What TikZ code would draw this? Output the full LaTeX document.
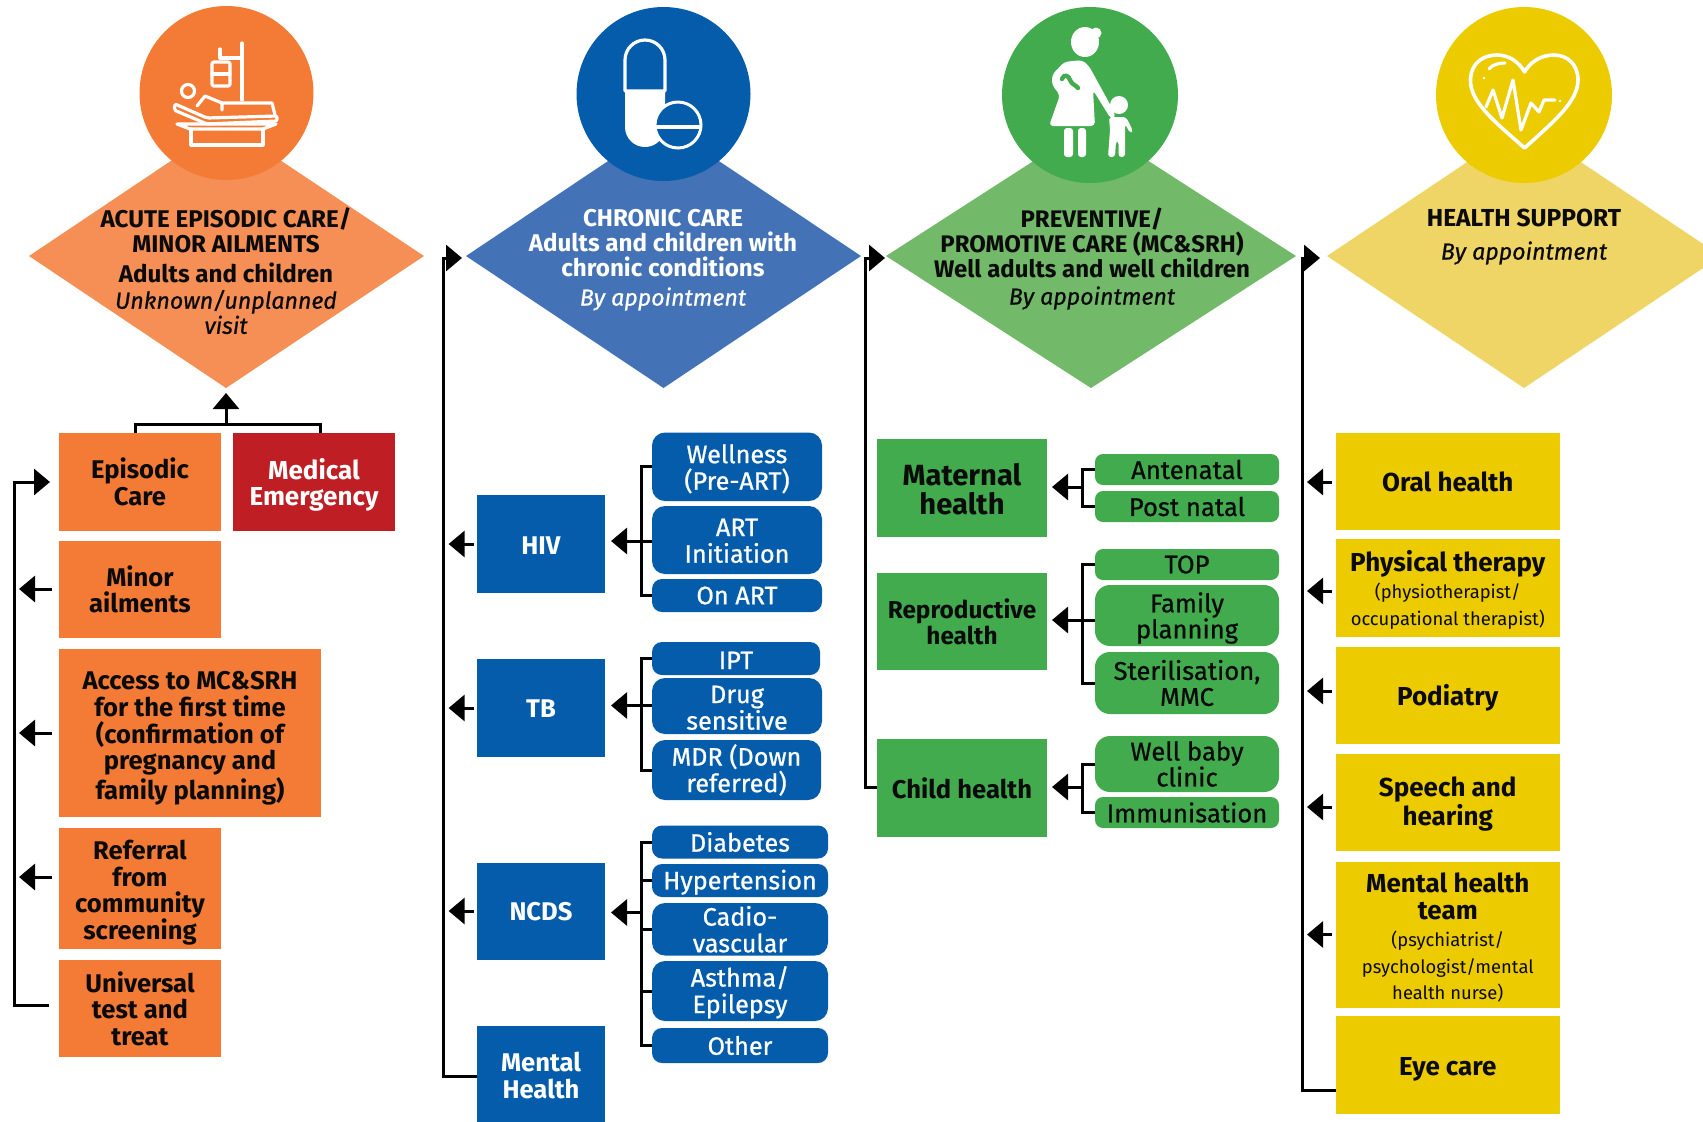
\documentclass[tikz,border=0pt]{standalone}
\usepackage{fontspec}
\setmainfont{Fira Sans}
\newfontfamily\medf[FakeBold=0.8]{Fira Sans}
\usetikzlibrary{arrows.meta}
\definecolor{oC}{HTML}{F47B36}\definecolor{oD}{HTML}{F58F55}
\definecolor{bC}{HTML}{055CAB}\definecolor{bD}{HTML}{4472B6}
\definecolor{gC}{HTML}{41AB4D}\definecolor{gD}{HTML}{72BA69}
\definecolor{yC}{HTML}{ECCB00}\definecolor{yD}{HTML}{EFD466}
\definecolor{rC}{HTML}{BE1E24}\definecolor{ink}{HTML}{0B0B0B}
\newcommand{\fs}[2]{\fontsize{#1}{#2}\selectfont}
\newcommand{\bx}[7]{\pgfmathsetmacro\wdd{(#4-#2)*0.5}\pgfmathsetmacro\htt{(#5-#3)*0.5}%
  \node[#6,minimum width=\wdd pt,minimum height=\htt pt] (#1) at ({(#2+#4)/2},{(#3+#5)/2}) {#7};}
\newcommand{\sm}[1]{{\mdseries\fontsize{9.2}{12.2}\selectfont #1}}
\newcommand{\dn}[1]{\rule{0pt}{#1pt}}
\tikzset{
  x=0.5pt,y=-0.5pt,
  base/.style={inner sep=0pt,outer sep=0pt,align=center},
  obox/.style={base,fill=oC,text=ink,font=\bfseries\fs{12.8}{13.3}},
  rbox/.style={base,fill=rC,text=white,font=\bfseries\fs{13}{13.2}},
  bbox/.style={base,fill=bC,text=white,font=\bfseries\fs{12.8}{13.6}},
  bpill/.style={base,fill=bC,text=white,rounded corners=6.5pt,font=\medf\fs{12.6}{13.3}},
  bshort/.style={bpill,rounded corners=5pt},
  gbig/.style={base,fill=gC,text=ink,font=\bfseries\fs{14.6}{14.7}},
  gmid/.style={base,fill=gC,text=ink,font=\bfseries\fs{12.8}{13}},
  gpill/.style={base,fill=gC,text=ink,rounded corners=7.5pt,font=\medf\fs{12.8}{13}},
  gshort/.style={gpill,rounded corners=4pt},
  ybox/.style={base,fill=yC,text=ink,font=\bfseries\fs{13}{13.4}},
  ln/.style={line width=1.5pt,draw=black},
  arr/.style={ln,-{Triangle[length=8pt,width=13pt]}},
  lbl/.style={base,font=\fs{12.1}{12.5}},
  ic/.style={draw=white,line width=1.6pt,line join=round,line cap=round},
}
\begin{document}
\begin{tikzpicture}
\useasboundingbox (0,0) rectangle (1703,1121);
\clip (0,0) rectangle (1703,1121);
% diamonds and circles
\coordinate (dA) at (226,388);
\fill[oD] (29,256) -- (226,124) -- (424,256) -- (dA) -- cycle;
\fill[bD] (466,256) -- (663.5,124) -- (861,256) -- (663.5,388) -- cycle;
\fill[gD] (886,256) -- (1091,124) -- (1296,256) -- (1091,388) -- cycle;
\fill[yD] (1327,256) -- (1524,124) -- (1721,256) -- (1524,388) -- cycle;
\fill[oC] (226.5,93) circle[radius=87];
\fill[bC] (663.5,94) circle[radius=87];
\fill[gC] (1090,95) circle[radius=88];
\fill[yC] (1524,95) circle[radius=88];
% bed icon
\draw[ic] (242,43) -- (242,100);
\draw[ic] (220,49) -- (220,58) -- (242,58);
\draw[ic,rounded corners=1pt] (212,62) rectangle (230,86);
\draw[ic] (212,74) -- (230,74);
\draw[ic] (188,91) circle[radius=6.5];
\draw[ic,rounded corners=1pt] (175,104) -- (207,118) -- (277,116) -- (277,121) -- (207,124) -- (174,110) -- cycle;
\draw[ic] (197,106) -- (205,96) -- (222,103) -- (222,110);
\draw[ic] (222,103) -- (272,103) -- (275,115);
\draw[ic] (177,124) -- (276,124) -- (263,129) -- (190,129) -- cycle;
\draw[ic] (191,129) -- (191,145) -- (263,145) -- (263,129);
% capsule icon
\fill[white] (625,91) -- (625,127) arc[start angle=180,end angle=0,radius=20] -- (665,91) -- cycle;
\draw[ic] (625,91) -- (625,60) arc[start angle=180,end angle=360,radius=20] -- (665,91) -- cycle;
\filldraw[fill=bC,draw=white,line width=1.5pt] (678,125) circle[radius=23];
\draw[white,line width=1.6pt] (655,127) -- (701,127);
% mother and child icon
\fill[white] (1085,42) ellipse[x radius=14,y radius=15];
\fill[white] (1096,33) circle[radius=5.5];
\fill[white,rounded corners=2pt] (1064,62) -- (1082,60) -- (1089,66) -- (1112,108) -- (1116,118) -- (1111,119) -- (1093,90) -- (1095,126) -- (1049,126) -- (1060,95) -- (1052,85) -- (1052,75) -- cycle;
\fill[white,rounded corners=1.5pt] (1064,128) rectangle (1073,157);
\fill[white,rounded corners=1.5pt] (1078,128) rectangle (1086,157);
\draw[gC,line width=2.2pt,line cap=round,line join=round] (1062,79) .. controls (1064,73) and (1069,76) .. (1070,80) .. controls (1072,85) and (1076,85) .. (1078,88);
\fill[white] (1119,105) circle[radius=9];
\fill[white,rounded corners=1.5pt] (1109,117) -- (1126,117) -- (1133,131) -- (1130,133) -- (1125,124) -- (1125,157) -- (1118.5,157) -- (1118.5,141) -- (1116,141) -- (1115,157) -- (1108,157) -- (1110,130) -- cycle;
% heart icon
\draw[ic,line width=1.8pt] (1524.6,148) .. controls (1495,122) and (1470,102) .. (1470.5,80) .. controls (1471,62) and (1484,55) .. (1497,55) .. controls (1509,55) and (1519,62) .. (1524.6,72) .. controls (1530,62) and (1541,55) .. (1554,55) .. controls (1567,55) and (1578,64) .. (1578,80) .. controls (1578,102) and (1553,122) .. (1524.6,148) -- cycle;
\draw[ic] (1486,107) -- (1493,90) -- (1502,118) -- (1513,80) -- (1521,130) -- (1531,103) -- (1539,112) -- (1544,100) -- (1555,100);
\fill[white] (1560,101) circle[radius=1.4];
\draw[ic] (1489,69) .. controls (1492,65) and (1498,63) .. (1505,63);
\fill[white] (1484,78) circle[radius=1.4];
% diamond texts
\node[lbl,text=ink,font=\bfseries\fs{12.1}{12.5}] (tA1) at (226,230) {ACUTE EPISODIC CARE/\\MINOR AILMENTS};
\node[lbl,text=ink,font=\bfseries\fs{12.1}{12.5}] (tA2) at (226,273) {Adults and children};
\node[lbl,text=ink,font=\medf\itshape\fs{11.6}{11.2}] (tA3) at (226,312) {Unknown/unplanned\\visit};
\node[lbl,text=white,font=\bfseries\fs{12.1}{12.5}] (tB1) at (663,243) {CHRONIC CARE\\Adults and children with\\chronic conditions};
\node[lbl,text=white,font=\medf\itshape\fs{11.6}{12.5}] (tB2) at (663,299) {By appointment};
\node[lbl,text=ink,font=\bfseries\fs{12}{12.5}] (tC1) at (1092,243) {PREVENTIVE/\\PROMOTIVE CARE (MC\&SRH)\\Well adults and well children};
\node[lbl,text=ink,font=\medf\itshape\fs{11.6}{12.5}] (tC2) at (1092,298) {By appointment};
\node[lbl,text=ink,font=\bfseries\fs{12.3}{12.5}] (tD1) at (1524,218) {HEALTH SUPPORT};
\node[lbl,text=ink,font=\medf\itshape\fs{11.6}{12.5}] (tD2) at (1524,253) {By appointment};
% orange column
\bx{epi}{59}{433}{221}{531}{obox}{Episodic\\Care}
\bx{med}{233}{433}{395}{531}{rbox}{\dn{13.5}Medical\\Emergency}
\bx{minor}{59}{541}{221}{638}{obox}{Minor\\ailments}
\bx{acc}{59}{649}{321}{817}{obox}{\dn{14.5}Access to MC\&SRH\\for the first time\\(confirmation of\\pregnancy and\\family planning)}
\bx{ref}{59}{828}{221}{949}{obox}{\dn{14}Referral\\from\\community\\screening}
\bx{uni}{59}{960}{221}{1057}{obox}{Universal\\test and\\treat}
\coordinate (jA) at (226,424);
\draw[ln] ([xshift=-43pt]epi.north east) |- (jA);
\draw[ln] ([xshift=-37.5pt]med.north east) |- (jA);
\draw[arr] (jA) -- ([shift={(0,5)}]dA);
\coordinate (uT) at (49,1005); \coordinate (bT) at (14,482); \coordinate (eT) at (50,482);
\draw[arr] (uT) -| (bT) -- (eT);
\coordinate (tipL) at (19,0);
\coordinate (t1) at (52,589); \coordinate (t2) at (52,733); \coordinate (t3) at (52,877);
\draw[arr] (t1) -- (tipL |- t1);
\draw[arr] (t2) -- (tipL |- t2);
\draw[arr] (t3) -- (tipL |- t3);
% blue column
\bx{hiv}{477}{495}{605}{592.5}{bbox}{\dn{11}HIV}
\bx{tb}{477}{659}{605}{757}{bbox}{\dn{9.5}TB}
\bx{ncd}{477}{862.5}{605}{960}{bbox}{NCDS}
\bx{mh}{477}{1026}{605}{1123}{bbox}{\dn{10.5}Mental\\Health}
\bx{wel}{652}{432.5}{822}{501}{bpill}{\dn{11.5}Wellness\\(Pre-ART)}
\bx{art}{652}{506}{822}{574}{bpill}{\dn{9.5}ART\\Initiation}
\bx{onart}{652}{579}{822}{612}{bshort}{On ART}
\bx{ipt}{652}{642}{820}{675}{bshort}{\dn{10.5}IPT}
\bx{drug}{652}{678}{822}{734}{bpill}{\dn{10.5}Drug\\sensitive}
\bx{mdr}{652}{740}{821}{800}{bpill}{MDR (Down\\referred)}
\bx{dia}{652}{825.5}{828}{858.5}{bshort}{Diabetes}
\bx{hyp}{652}{864}{828}{897}{bshort}{\dn{11.5}Hypertension}
\bx{cad}{652}{903}{828}{955.5}{bpill}{Cadio-\\vascular}
\bx{ast}{652}{961}{828}{1021}{bpill}{\dn{11.5}Asthma/\\Epilepsy}
\bx{oth}{652}{1028}{828}{1063}{bshort}{Other}
\coordinate (hB) at (641,541); \coordinate (tB) at (641,705.5); \coordinate (nB) at (641,912.5);
\draw[ln] (wel.west) -| (hB) |- (onart.west);
\draw[ln] (ipt.west) -| (tB) |- (mdr.west);
\draw[ln] (dia.west) -| (nB) |- (oth.west);
\draw[ln] (hyp.west) -- (hyp.west -| nB);
\draw[ln] (cad.west) -- (cad.west -| nB);
\draw[ln] (ast.west) -- (ast.west -| nB);
\draw[arr] (art.west |- hB) -- ([xshift=3pt]hiv.east |- hB);
\draw[arr] (drug.west |- tB) -- ([xshift=3pt]tb.east |- tB);
\draw[arr] (nB) -- ([xshift=3pt]ncd.east |- nB);
\coordinate (mT) at (477,1076); \coordinate (b2) at (443.5,258); \coordinate (a2) at (462,258);
\draw[arr] (mT) -| (b2) -- (a2);
\coordinate (h1) at (474,544); \coordinate (h2) at (474,708); \coordinate (h3) at (474,911); \coordinate (tipM) at (448.6,0);
\draw[arr] (h1) -- (tipM |- h1);
\draw[arr] (h2) -- (tipM |- h2);
\draw[arr] (h3) -- (tipM |- h3);
% green column
\bx{mat}{877}{439}{1047}{537}{gbig}{\dn{12}Maternal\\health}
\bx{rep}{877}{573}{1047}{670}{gmid,font=\bfseries\fs{12.2}{13}}{Reproductive\\health}
\bx{chi}{877}{739}{1047}{837}{gmid}{Child health}
\bx{ant}{1095}{454}{1279}{485}{gshort}{Antenatal}
\bx{pos}{1095}{491}{1279}{522}{gshort}{Post natal}
\bx{top}{1095}{549}{1279}{580}{gshort}{TOP}
\bx{fam}{1095}{585}{1279}{646}{gpill}{\dn{12.5}Family\\planning}
\bx{ste}{1095}{652}{1279}{714}{gpill}{Sterilisation,\\MMC}
\bx{wbc}{1095}{736}{1279}{792}{gpill}{Well baby\\clinic}
\bx{imm}{1095}{797}{1279}{828}{gshort}{Immunisation}
\coordinate (mB) at (1082,487); \coordinate (rB) at (1082,620); \coordinate (cB) at (1082,787);
\draw[ln] (ant.west) -| (mB) |- (pos.west);
\draw[ln] (top.west) -| (rB) |- (ste.west);
\draw[ln] (wbc.west) -| (cB) |- (imm.west);
\draw[arr] (mB) -- ([xshift=2.5pt]mat.east |- mB);
\draw[arr] (fam.west |- rB) -- ([xshift=2.5pt]rep.east |- rB);
\draw[arr] (cB) -- ([xshift=2.5pt]chi.east |- cB);
\coordinate (cT) at (877,787); \coordinate (b3) at (865,258); \coordinate (a3) at (885,258);
\draw[arr] (cT) -| (b3) -- (a3);
% yellow column
\bx{ora}{1335.5}{432.5}{1560}{530}{ybox}{\dn{10.5}Oral health}
\bx{phy}{1335.5}{539}{1560}{637}{ybox}{\dn{12.7}Physical therapy\\\sm{(physiotherapist/}\\\sm{occupational therapist)}}
\bx{pod}{1335.5}{647}{1560}{744}{ybox}{\dn{13.3}Podiatry}
\bx{spe}{1335.5}{754}{1560}{851}{ybox}{\dn{11.5}Speech and\\hearing}
\bx{mnt}{1335.5}{862}{1560}{1008}{ybox}{\dn{12.7}Mental health\\team\\\sm{(psychiatrist/}\\\sm{psychologist/mental}\\\sm{health nurse)}}
\bx{eye}{1335.5}{1016}{1560}{1114}{ybox}{\dn{13.3}Eye care}
\coordinate (yT) at (1335.5,1090); \coordinate (b4) at (1302,258); \coordinate (a4) at (1320,258);
\draw[arr] (yT) -| (b4) -- (a4);
\coordinate (tipY) at (1307,0);
\coordinate (y1) at (1331.5,482); \coordinate (y2) at (1331.5,591); \coordinate (y3) at (1331.5,691); \coordinate (y4) at (1331.5,807); \coordinate (y5) at (1331.5,934.5);
\draw[arr] (y1) -- (tipY |- y1);
\draw[arr] (y2) -- (tipY |- y2);
\draw[arr] (y3) -- (tipY |- y3);
\draw[arr] (y4) -- (tipY |- y4);
\draw[arr] (y5) -- (tipY |- y5);
\end{tikzpicture}
\end{document}
